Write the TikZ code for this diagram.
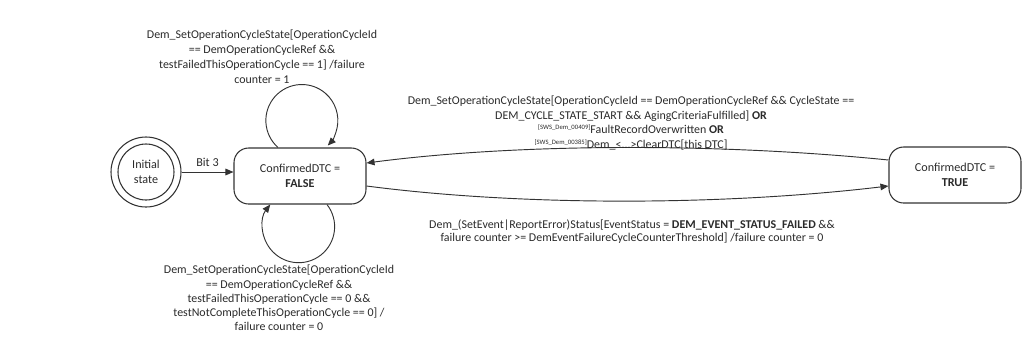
\documentclass[tikz,border=0pt]{standalone}
\usepackage{fontspec}
\setmainfont{Carlito}
\usetikzlibrary{arrows.meta,calc}
\definecolor{ln}{HTML}{333333}
\definecolor{tx}{HTML}{2A2A2A}
\newcommand{\swsref}[1]{\raisebox{0.7ex}{\fontsize{5}{5}\selectfont #1}}
\tikzset{
  statebox/.style={draw=ln, line width=0.8pt, rounded corners=11pt, minimum width=99pt, minimum height=42pt, align=center, text=tx, font=\fontsize{9.1}{11.5}\selectfont},
  trans/.style={draw=ln, line width=0.7pt, -{Triangle[length=6pt,width=5pt]}},
  lbl/.style={align=center, text=tx, font=\fontsize{8.95}{11.2}\selectfont, inner sep=0pt}
}
\begin{document}
\begin{tikzpicture}[x=0.75pt,y=-0.75pt]
\useasboundingbox (0,0) rectangle (1024,337);
% initial state
\node[circle, draw=ln, line width=0.8pt, minimum size=52.5pt, inner sep=0pt] (initO) at (146,172) {};
\node[circle, draw=ln, line width=0.8pt, minimum size=42pt, inner sep=0pt, align=center, text=tx, font=\fontsize{9.1}{11.5}\selectfont] (init) at (146,172) {Initial\\state};
% states
\node[statebox] (f) at (300,176) {ConfirmedDTC =\\\textbf{FALSE}};
\node[statebox] (t) at (955,175) {ConfirmedDTC =\\\textbf{TRUE}};
% Bit 3
\draw[trans] (initO.east) -- node[lbl, above=4pt, font=\fontsize{9.1}{11}\selectfont] (b3) {Bit 3} (f.west |- initO.east);
% upper self-loop
\draw[trans] ($(f.north)+(-22,0)$) arc[start angle=131.5, end angle=404, radius=36];
\node[lbl] (lu) at (262,57) {Dem\_SetOperationCycleState[OperationCycleId\\== DemOperationCycleRef \&\&\\testFailedThisOperationCycle == 1] /failure\\counter = 1};
% lower self-loop
\draw[trans] ($(f.south)+(27,0)$) arc[start angle=-38, end angle=218, radius=36];
\node[lbl, font=\fontsize{8.95}{10.7}\selectfont] (ll) at (279,298) {Dem\_SetOperationCycleState[OperationCycleId\\== DemOperationCycleRef \&\&\\testFailedThisOperationCycle == 0 \&\&\\testNotCompleteThisOperationCycle == 0] /\\failure counter = 0};
% TRUE -> FALSE
\draw[trans] ($(t.west)+(0,-15)$) .. controls (720,143) and (520,143) .. ($(f.east)+(0,-13)$);
\node[lbl] (lt) at (631,123) {Dem\_SetOperationCycleState[OperationCycleId == DemOperationCycleRef \&\& CycleState ==\\DEM\_CYCLE\_STATE\_START \&\& AgingCriteriaFulfilled] \textbf{OR}\\\swsref{[SWS\_Dem\_00409]}FaultRecordOverwritten \textbf{OR}\\\swsref{[SWS\_Dem\_00385]}Dem\_<...>ClearDTC[this DTC]};
% FALSE -> TRUE
\draw[trans] ($(f.east)+(0,10)$) .. controls (520,206) and (720,206) .. ($(t.west)+(0,11)$);
\node[lbl, font=\fontsize{8.95}{9.8}\selectfont] (lb) at (632,232) {Dem\_(SetEvent|ReportError)Status[EventStatus = \textbf{DEM\_EVENT\_STATUS\_FAILED} \&\&\\failure counter >= DemEventFailureCycleCounterThreshold] /failure counter = 0};
\end{tikzpicture}
\end{document}
